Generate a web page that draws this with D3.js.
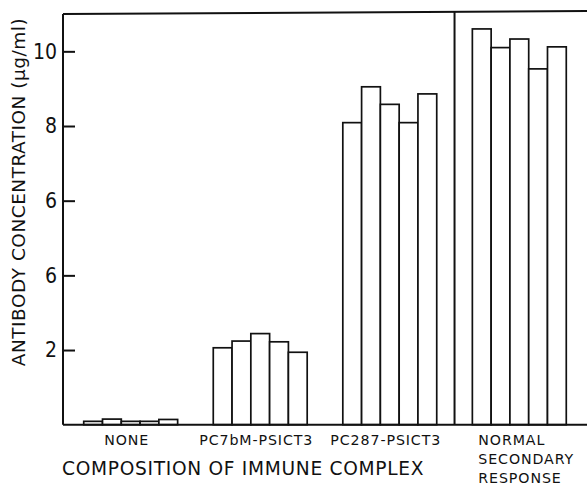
<!DOCTYPE html>
<html>
<head>
<meta charset="utf-8">
<script src="https://cdn.jsdelivr.net/npm/d3@7"></script>
<style>
  body { margin: 0; background: #fff; }
  text { font-family: "DejaVu Sans", sans-serif; fill: #111; }
</style>
</head>
<body>
<div id="chart"></div>
<script>
var width = 587
var height = 487

// data
var groups = ["NONE", "PC7bM-PSICT3", "PC287-PSICT3", "NORMAL"]
var groupLabels = [["NONE"], ["PC7bM-PSICT3"], ["PC287-PSICT3"], ["NORMAL", "SECONDARY", "RESPONSE"]]
var noneValues = [0.09, 0.15, 0.09, 0.09, 0.14]
var pc76Values = [2.06, 2.24, 2.44, 2.22, 1.94]
var pc287Values = [8.09, 9.05, 8.58, 8.09, 8.86]
var normalValues = [10.60, 10.10, 10.33, 9.53, 10.12]
var tickValues = [2, 4, 6, 8, 10]
var tickLabels = ["2", "6", "6", "8", "10"]   // as printed in the original

var allValues = [noneValues, pc76Values, pc287Values, normalValues]

var svg = d3.select("#chart").append("svg").attr("width", width).attr("height", height)

var x = d3.scaleBand().domain(groups).range([63, 587]).paddingInner(0.275).paddingOuter(0.16)
var xi = d3.scaleBand().domain(d3.range(5)).range([0, x.bandwidth()])
var y = d3.scaleLinear().domain([0, 11]).range([424.7, 14])

// bars
groups.forEach(function(g, gi) {
    svg.append("g")
        .attr("transform", "translate(" + x(g) + ",0)")
        .selectAll("rect")
        .data(allValues[gi])
        .enter()
        .append("rect")
            .attr("x", (d, i) => xi(i))
            .attr("y", d => y(d))
            .attr("width", xi.bandwidth())
            .attr("height", d => y(0) - y(d))
            .style("fill", "#fff")
            .style("stroke", "#111")
            .style("stroke-width", 1.7)
})

// frame: left axis, top line, bottom axis, divider
var frame = svg.append("g").style("stroke", "#111").style("stroke-width", 2).style("fill", "none")
frame.append("line").attr("x1", 63).attr("x2", 63).attr("y1", y(11)).attr("y2", y(0))
frame.append("line").attr("x1", 63).attr("x2", width).attr("y1", y(11)).attr("y2", y(11) - 3)
frame.append("line").attr("x1", 63).attr("x2", width).attr("y1", y(0)).attr("y2", y(0))
var divX = x("NORMAL") - x.step() * x.paddingInner() / 2
frame.append("line").attr("x1", divX).attr("x2", divX).attr("y1", y(11) - 2).attr("y2", y(0))

// y axis ticks pointing inward
var yAxis = d3.axisRight(y)
    .tickValues(tickValues)
    .tickFormat((d, i) => tickLabels[i])
    .tickSize(12)
var ay = svg.append("g").attr("transform", "translate(63,0)").call(yAxis)
ay.select(".domain").remove()
ay.selectAll(".tick line").style("stroke", "#111").style("stroke-width", 2)
ay.selectAll(".tick text")
    .attr("text-anchor", "end")
    .attr("x", -6)
    .style("font-size", "21px")
    .style("font-family", "'DejaVu Sans Condensed', 'DejaVu Sans', sans-serif")

// category labels
groups.forEach(function(g, gi) {
    var lines = groupLabels[gi]
    var t = svg.append("text")
        .style("font-size", "14.2px")
        .style("letter-spacing", "0.9px")
    if (lines.length == 1) {
        t.attr("x", x(g) + x.bandwidth() / 2 - 4).attr("y", 445).attr("text-anchor", "middle").text(lines[0])
    } else {
        t.attr("x", x(g) + 6).attr("y", 445)
        t.selectAll("tspan").data(lines).enter().append("tspan")
            .attr("x", x(g) + 6)
            .attr("dy", (d, i) => i == 0 ? 0 : 19)
            .text(d => d)
    }
})

// axis titles
svg.append("text")
    .attr("x", 62).attr("y", 475)
    .style("font-size", "18.6px")
    .style("letter-spacing", "0.7px")
    .text("COMPOSITION OF IMMUNE COMPLEX")

svg.append("text")
    .attr("transform", "translate(25,192) rotate(-90)")
    .attr("text-anchor", "middle")
    .style("font-size", "18.5px")
    .style("letter-spacing", "0.5px")
    .text("ANTIBODY CONCENTRATION (\u00b5g/ml)")
</script>
</body>
</html>
